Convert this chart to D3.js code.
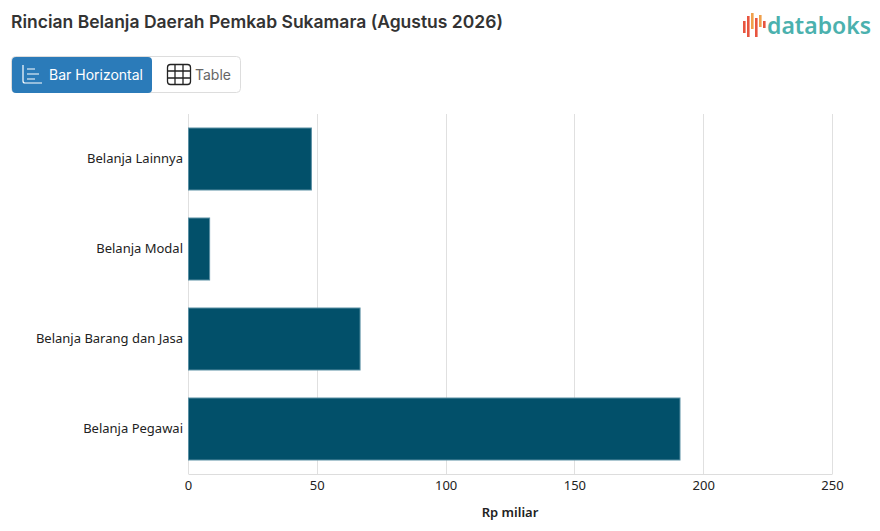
<!DOCTYPE html>
<html>
<head>
<meta charset="utf-8">
<script src="https://cdn.jsdelivr.net/npm/d3@7"></script>
<style>
  body { margin: 0; background: #fff; }
  svg { display: block; }
</style>
</head>
<body>
<svg id="chart" width="880" height="531"></svg>
<script>
// data
const categories = ['Belanja Lainnya', 'Belanja Modal', 'Belanja Barang dan Jasa', 'Belanja Pegawai'];
const values = [47.7, 8.2, 66.6, 190.8];
const xTicks = [0, 50, 100, 150, 200, 250];

const svg = d3.select('#chart');
const font = "'Noto Sans', 'Open Sans', sans-serif";

// title
svg.append('text')
    .attr('x', 11).attr('y', 28)
    .attr('font-family', "Inter, 'Noto Sans', sans-serif")
    .attr('font-size', 17.5).attr('font-weight', 600)
    .attr('fill', '#333')
    .text('Rincian Belanja Daerah Pemkab Sukamara (Agustus 2026)');

// logo
const logo = svg.append('g').attr('transform', 'translate(743,13)');
const logoBars = [[0, 8, 12, '#e8553f'], [4, 3, 21, '#e8553f'], [8, 0, 16, '#f0a04b'], [12, 5, 19, '#e8553f'], [16, 2, 12, '#f0a04b'], [20, 8, 7, '#e8553f']];
logoBars.forEach(b => {
    logo.append('rect').attr('x', b[0]).attr('y', b[1]).attr('width', 2.6).attr('height', b[2]).attr('fill', b[3]);
});
svg.append('text')
    .attr('x', 767).attr('y', 34)
    .attr('font-family', "'Noto Sans', sans-serif")
    .attr('font-size', 23).attr('font-weight', 600)
    .attr('fill', '#4bb1ae')
    .text('databoks');

// buttons
const btn = svg.append('g');
btn.append('rect').attr('x', 11.5).attr('y', 56.5).attr('width', 229).attr('height', 36)
    .attr('rx', 4).attr('fill', '#fff').attr('stroke', '#ddd');
btn.append('path')
    .attr('d', 'M16,57 h132 a4,4 0 0 1 4,4 v28 a4,4 0 0 1 -4,4 h-132 a4,4 0 0 1 -4,-4 v-28 a4,4 0 0 1 4,-4 z')
    .attr('fill', '#2b7bb9');
// bar icon
const bi = btn.append('g').attr('stroke', '#fff').attr('stroke-width', 1.2).attr('fill', 'none');
bi.append('path').attr('d', 'M23,65 v16 a2,2 0 0 0 2,2 h17');
bi.append('path').attr('d', 'M27,69 h8 M27,74 h12 M27,79 h8');
btn.append('text').attr('x', 49).attr('y', 80)
    .attr('font-family', "Inter, 'Noto Sans', sans-serif").attr('font-size', 14)
    .attr('fill', '#fff').text('Bar Horizontal');
// table icon
const ti = btn.append('g').attr('stroke', '#222').attr('stroke-width', 1.3).attr('fill', 'none');
ti.append('rect').attr('x', 167.5).attr('y', 64.5).attr('width', 23).attr('height', 20).attr('rx', 3);
ti.append('path').attr('d', 'M175,64.5 v20 M183,64.5 v20 M167.5,71 h23 M167.5,78 h23');
btn.append('text').attr('x', 195).attr('y', 80)
    .attr('font-family', "Inter, 'Noto Sans', sans-serif").attr('font-size', 14)
    .attr('fill', '#666').text('Table');

// chart area
const margin = { left: 188, right: 48, top: 114, bottom: 57 };
const width = 880 - margin.left - margin.right;
const height = 531 - margin.top - margin.bottom;
const g = svg.append('g').attr('transform', `translate(${margin.left},${margin.top})`);

const x = d3.scaleLinear().domain([0, 250]).range([0, width]);
const y = d3.scaleBand().domain(categories).range([0, height]).paddingInner(0.3).paddingOuter(0.15);

// grid
g.selectAll('.grid').data(xTicks).enter().append('line')
    .attr('x1', d => Math.round(x(d)) + 0.5).attr('x2', d => Math.round(x(d)) + 0.5)
    .attr('y1', 0).attr('y2', height)
    .attr('stroke', '#e0e0e0');

// bars
g.selectAll('.bar').data(values).enter().append('rect')
    .attr('x', x(0) + 0.5)
    .attr('y', (d, i) => y(categories[i]) + 0.5)
    .attr('width', d => x(d) - x(0))
    .attr('height', y.bandwidth() - 1)
    .attr('fill', '#02506a')
    .attr('stroke', '#5a8fa3').attr('stroke-width', 1);

// x axis
const xAxis = g.append('g').attr('transform', `translate(0,${height})`)
    .call(d3.axisBottom(x).tickValues(xTicks).tickSize(0).tickPadding(7));
xAxis.select('.domain').attr('stroke', '#ddd');
xAxis.selectAll('text').attr('font-family', font).attr('font-size', 13).attr('fill', '#222');

// y axis labels
const yAxis = g.append('g').call(d3.axisLeft(y).tickSize(0).tickPadding(5));
yAxis.select('.domain').remove();
yAxis.selectAll('text').attr('font-family', font).attr('font-size', 13).attr('fill', '#222');

// x axis title
svg.append('text')
    .attr('x', margin.left + width / 2).attr('y', 517)
    .attr('text-anchor', 'middle')
    .attr('font-family', font).attr('font-size', 13).attr('font-weight', 600)
    .attr('fill', '#222')
    .text('Rp miliar');
</script>
</body>
</html>
